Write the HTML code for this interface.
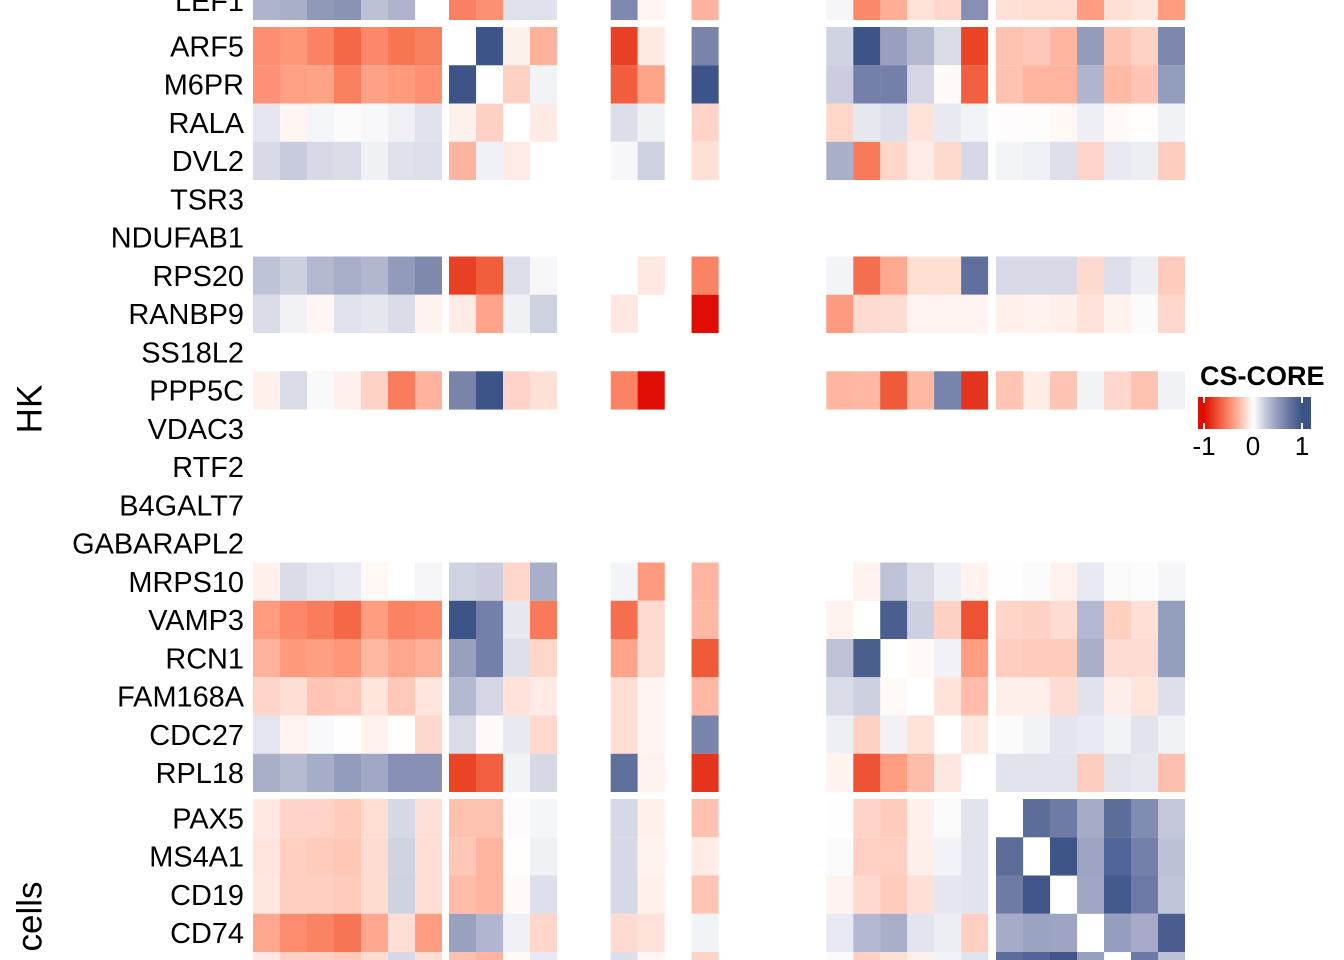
<!DOCTYPE html>
<html><head><meta charset="utf-8"><style>
html,body{margin:0;padding:0;background:#fff;}
svg{display:block;}
text{font-family:"Liberation Sans",Arial,sans-serif;fill:#000;}
.lab{font-size:28.9px;text-anchor:end;}
</style></head><body>
<svg width="1344" height="960" viewBox="0 0 1344 960" xmlns="http://www.w3.org/2000/svg">
<defs>
<linearGradient id="cb" x1="1198" y1="0" x2="1311" y2="0" gradientUnits="userSpaceOnUse">
<stop offset="0" stop-color="#de0c03"/><stop offset="0.053" stop-color="#de0c03"/>
<stop offset="0.162" stop-color="#ec4a2d"/><stop offset="0.27" stop-color="#fb8567"/>
<stop offset="0.378" stop-color="#ffc0ae"/><stop offset="0.487" stop-color="#ffffff"/>
<stop offset="0.595" stop-color="#c7cadc"/><stop offset="0.703" stop-color="#939bbb"/>
<stop offset="0.811" stop-color="#66759f"/><stop offset="0.92" stop-color="#3b5387"/>
<stop offset="1" stop-color="#3b5387"/>
</linearGradient>
</defs>
<rect width="1344" height="960" fill="#fff"/>

<!-- LEF1 -->
<g transform="translate(0,-18.25)">
<rect x="253" width="27.1" height="38.3" fill="#aeb2cc"/><rect x="280" width="27.1" height="38.3" fill="#a9aec9"/><rect x="307" width="27.1" height="38.3" fill="#9099b8"/><rect x="334" width="27.1" height="38.3" fill="#8b93b5"/><rect x="361" width="27.1" height="38.3" fill="#bdc1d6"/><rect x="388" width="27.1" height="38.3" fill="#aeb2cc"/>
<rect x="449" width="27.1" height="38.3" fill="#f98062"/><rect x="476" width="27.1" height="38.3" fill="#fd9072"/><rect x="503" width="27.1" height="38.3" fill="#dfe1ec"/><rect x="530" width="27.1" height="38.3" fill="#dfe1ec"/>
<rect x="610.7" width="27.1" height="38.3" fill="#7f89af"/><rect x="637.65" width="27.1" height="38.3" fill="#fff5f2"/><rect x="691.55" width="27.1" height="38.3" fill="#ffb39e"/>
<rect x="826.3" width="27.1" height="38.3" fill="#f6f6f9"/><rect x="853.3" width="27.1" height="38.3" fill="#fd8769"/><rect x="880.2" width="27.1" height="38.3" fill="#ffae96"/><rect x="907.2" width="27.1" height="38.3" fill="#ffe3da"/><rect x="934.1" width="27.1" height="38.3" fill="#ffd6cb"/><rect x="961.1" width="27" height="38.3" fill="#8790b4"/>
<rect x="996" width="27.1" height="38.3" fill="#ffe1d9"/><rect x="1023" width="27.1" height="38.3" fill="#ffddd3"/><rect x="1050" width="27.1" height="38.3" fill="#ffddd3"/><rect x="1077" width="27.1" height="38.3" fill="#ff9d82"/><rect x="1104" width="27.1" height="38.3" fill="#ffdfd6"/><rect x="1131" width="27.1" height="38.3" fill="#ffe6de"/><rect x="1158" width="27" height="38.3" fill="#ff9c80"/>
</g>

<!-- ARF5 -->
<g transform="translate(0,27)">
<rect x="253" width="27.1" height="38.3" fill="#fe8e72"/><rect x="280" width="27.1" height="38.3" fill="#fe9778"/><rect x="307" width="27.1" height="38.3" fill="#fb8262"/><rect x="334" width="27.1" height="38.3" fill="#f46747"/><rect x="361" width="27.1" height="38.3" fill="#fd8769"/><rect x="388" width="27.1" height="38.3" fill="#f87552"/><rect x="415" width="27" height="38.3" fill="#f9805f"/>
<rect x="476" width="27.1" height="38.3" fill="#3c5487"/><rect x="503" width="27.1" height="38.3" fill="#fdf1ec"/><rect x="530" width="27.1" height="38.3" fill="#ffb19c"/>
<rect x="610.7" width="27.1" height="38.3" fill="#e84025"/><rect x="637.65" width="27.1" height="38.3" fill="#ffeae2"/><rect x="691.55" width="27.1" height="38.3" fill="#7a84ab"/>
<rect x="826.3" width="27.1" height="38.3" fill="#d0d3e2"/><rect x="853.3" width="27.1" height="38.3" fill="#3c5487"/><rect x="880.2" width="27.1" height="38.3" fill="#98a0bd"/><rect x="907.2" width="27.1" height="38.3" fill="#b5b9d0"/><rect x="934.1" width="27.1" height="38.3" fill="#d9dbe6"/><rect x="961.1" width="27" height="38.3" fill="#ea4326"/>
<rect x="996" width="27.1" height="38.3" fill="#ffc2b1"/><rect x="1023" width="27.1" height="38.3" fill="#ffc7b7"/><rect x="1050" width="27.1" height="38.3" fill="#ffb6a1"/><rect x="1077" width="27.1" height="38.3" fill="#939dbb"/><rect x="1104" width="27.1" height="38.3" fill="#ffc3b3"/><rect x="1131" width="27.1" height="38.3" fill="#ffd2c5"/><rect x="1158" width="27" height="38.3" fill="#7d88ae"/>
</g>

<!-- M6PR -->
<g transform="translate(0,65.25)">
<rect x="253" width="27.1" height="38.3" fill="#fe9175"/><rect x="280" width="27.1" height="38.3" fill="#ffa084"/><rect x="307" width="27.1" height="38.3" fill="#ffa387"/><rect x="334" width="27.1" height="38.3" fill="#f97f5e"/><rect x="361" width="27.1" height="38.3" fill="#ffa186"/><rect x="388" width="27.1" height="38.3" fill="#ff9a7c"/><rect x="415" width="27" height="38.3" fill="#fe8f72"/>
<rect x="449" width="27.1" height="38.3" fill="#3c5487"/><rect x="503" width="27.1" height="38.3" fill="#ffd1c4"/><rect x="530" width="27.1" height="38.3" fill="#f2f3f7"/>
<rect x="610.7" width="27.1" height="38.3" fill="#f05e3e"/><rect x="637.65" width="27.1" height="38.3" fill="#ffa489"/><rect x="691.55" width="27.1" height="38.3" fill="#3c5487"/>
<rect x="826.3" width="27.1" height="38.3" fill="#cbcddf"/><rect x="853.3" width="27.1" height="38.3" fill="#7580aa"/><rect x="880.2" width="27.1" height="38.3" fill="#7480aa"/><rect x="907.2" width="27.1" height="38.3" fill="#d4d6e5"/><rect x="934.1" width="27.1" height="38.3" fill="#fffaf7"/><rect x="961.1" width="27" height="38.3" fill="#f05f3f"/>
<rect x="996" width="27.1" height="38.3" fill="#ffc2b1"/><rect x="1023" width="27.1" height="38.3" fill="#ffb49f"/><rect x="1050" width="27.1" height="38.3" fill="#ffb49f"/><rect x="1077" width="27.1" height="38.3" fill="#b1b4cf"/><rect x="1104" width="27.1" height="38.3" fill="#ffbaa5"/><rect x="1131" width="27.1" height="38.3" fill="#ffc4b3"/><rect x="1158" width="27" height="38.3" fill="#939dbd"/>
</g>

<!-- RALA -->
<g transform="translate(0,103.5)">
<rect x="253" width="27.1" height="38.3" fill="#e5e6ef"/><rect x="280" width="27.1" height="38.3" fill="#fff5f2"/><rect x="307" width="27.1" height="38.3" fill="#f4f5f9"/><rect x="334" width="27.1" height="38.3" fill="#fbfbfc"/><rect x="361" width="27.1" height="38.3" fill="#f8f8fa"/><rect x="388" width="27.1" height="38.3" fill="#efeff4"/><rect x="415" width="27" height="38.3" fill="#e0e2ec"/>
<rect x="449" width="27.1" height="38.3" fill="#fdf1ed"/><rect x="476" width="27.1" height="38.3" fill="#ffd1c4"/><rect x="530" width="27.1" height="38.3" fill="#ffebe5"/>
<rect x="610.7" width="27.1" height="38.3" fill="#dcdee9"/><rect x="637.65" width="27.1" height="38.3" fill="#f0f1f5"/><rect x="691.55" width="27.1" height="38.3" fill="#ffd3c7"/>
<rect x="826.3" width="27.1" height="38.3" fill="#ffd6ca"/><rect x="853.3" width="27.1" height="38.3" fill="#e6e8f0"/><rect x="880.2" width="27.1" height="38.3" fill="#dddfea"/><rect x="907.2" width="27.1" height="38.3" fill="#ffe2d9"/><rect x="934.1" width="27.1" height="38.3" fill="#e8eaf1"/><rect x="961.1" width="27" height="38.3" fill="#f2f3f7"/>
<rect x="996" width="27.1" height="38.3" fill="#fffcfd"/><rect x="1023" width="27.1" height="38.3" fill="#fffdfc"/><rect x="1050" width="27.1" height="38.3" fill="#fff8f5"/><rect x="1077" width="27.1" height="38.3" fill="#eeeff4"/><rect x="1104" width="27.1" height="38.3" fill="#fffaf8"/><rect x="1131" width="27.1" height="38.3" fill="#fffefd"/><rect x="1158" width="27" height="38.3" fill="#f1f2f6"/>
</g>

<!-- DVL2 -->
<g transform="translate(0,141.75)">
<rect x="253" width="27.1" height="38.3" fill="#d8dbe7"/><rect x="280" width="27.1" height="38.3" fill="#c8cbdc"/><rect x="307" width="27.1" height="38.3" fill="#d7dae6"/><rect x="334" width="27.1" height="38.3" fill="#dadce8"/><rect x="361" width="27.1" height="38.3" fill="#f0f1f5"/><rect x="388" width="27.1" height="38.3" fill="#dfe1eb"/><rect x="415" width="27" height="38.3" fill="#dddfea"/>
<rect x="449" width="27.1" height="38.3" fill="#ffb4a0"/><rect x="476" width="27.1" height="38.3" fill="#f0f1f6"/><rect x="503" width="27.1" height="38.3" fill="#ffebe6"/>
<rect x="610.7" width="27.1" height="38.3" fill="#f7f7f9"/><rect x="637.65" width="27.1" height="38.3" fill="#ced1e0"/><rect x="691.55" width="27.1" height="38.3" fill="#ffe0d7"/>
<rect x="826.3" width="27.1" height="38.3" fill="#a9aec9"/><rect x="853.3" width="27.1" height="38.3" fill="#f87a5a"/><rect x="880.2" width="27.1" height="38.3" fill="#ffd6ca"/><rect x="907.2" width="27.1" height="38.3" fill="#ffebe6"/><rect x="934.1" width="27.1" height="38.3" fill="#ffd9ce"/><rect x="961.1" width="27" height="38.3" fill="#d6d9e5"/>
<rect x="996" width="27.1" height="38.3" fill="#f3f4f8"/><rect x="1023" width="27.1" height="38.3" fill="#eff0f5"/><rect x="1050" width="27.1" height="38.3" fill="#dedfea"/><rect x="1077" width="27.1" height="38.3" fill="#ffd5c9"/><rect x="1104" width="27.1" height="38.3" fill="#e8e9f1"/><rect x="1131" width="27.1" height="38.3" fill="#eceef2"/><rect x="1158" width="27" height="38.3" fill="#ffcdbf"/>
</g>

<!-- RPS20 -->
<g transform="translate(0,256.5)">
<rect x="253" width="27.1" height="38.3" fill="#bec2d6"/><rect x="280" width="27.1" height="38.3" fill="#cdd0df"/><rect x="307" width="27.1" height="38.3" fill="#b3b7cf"/><rect x="334" width="27.1" height="38.3" fill="#a8adc8"/><rect x="361" width="27.1" height="38.3" fill="#b2b6ce"/><rect x="388" width="27.1" height="38.3" fill="#939bba"/><rect x="415" width="27" height="38.3" fill="#7e89ad"/>
<rect x="449" width="27.1" height="38.3" fill="#e84025"/><rect x="476" width="27.1" height="38.3" fill="#f05e3e"/><rect x="503" width="27.1" height="38.3" fill="#dcdee9"/><rect x="530" width="27.1" height="38.3" fill="#f7f7f9"/>
<rect x="637.65" width="27.1" height="38.3" fill="#ffe8e1"/><rect x="691.55" width="27.1" height="38.3" fill="#fa8366"/>
<rect x="826.3" width="27.1" height="38.3" fill="#f3f4f8"/><rect x="853.3" width="27.1" height="38.3" fill="#f56e4f"/><rect x="880.2" width="27.1" height="38.3" fill="#ffa990"/><rect x="907.2" width="27.1" height="38.3" fill="#ffded4"/><rect x="934.1" width="27.1" height="38.3" fill="#ffded4"/><rect x="961.1" width="27" height="38.3" fill="#5f709c"/>
<rect x="996" width="27.1" height="38.3" fill="#d8dbe7"/><rect x="1023" width="27.1" height="38.3" fill="#d8dbe7"/><rect x="1050" width="27.1" height="38.3" fill="#d8dbe7"/><rect x="1077" width="27.1" height="38.3" fill="#ffd9cf"/><rect x="1104" width="27.1" height="38.3" fill="#dddfea"/><rect x="1131" width="27.1" height="38.3" fill="#edeef3"/><rect x="1158" width="27" height="38.3" fill="#ffcbbd"/>
</g>

<!-- RANBP9 -->
<g transform="translate(0,294.75)">
<rect x="253" width="27.1" height="38.3" fill="#d9dbe7"/><rect x="280" width="27.1" height="38.3" fill="#f2f2f6"/><rect x="307" width="27.1" height="38.3" fill="#fff6f4"/><rect x="334" width="27.1" height="38.3" fill="#e0e2ec"/><rect x="361" width="27.1" height="38.3" fill="#e5e7ef"/><rect x="388" width="27.1" height="38.3" fill="#dadce8"/><rect x="415" width="27" height="38.3" fill="#fff3f0"/>
<rect x="449" width="27.1" height="38.3" fill="#ffece6"/><rect x="476" width="27.1" height="38.3" fill="#ffa48a"/><rect x="503" width="27.1" height="38.3" fill="#f0f1f5"/><rect x="530" width="27.1" height="38.3" fill="#ced1e0"/>
<rect x="610.7" width="27.1" height="38.3" fill="#ffe8e1"/><rect x="691.55" width="27.1" height="38.3" fill="#df0d03"/>
<rect x="826.3" width="27.1" height="38.3" fill="#fe9a7f"/><rect x="853.3" width="27.1" height="38.3" fill="#ffdad0"/><rect x="880.2" width="27.1" height="38.3" fill="#ffdcd2"/><rect x="907.2" width="27.1" height="38.3" fill="#fff4f1"/><rect x="934.1" width="27.1" height="38.3" fill="#fff4f1"/><rect x="961.1" width="27" height="38.3" fill="#fff4f1"/>
<rect x="996" width="27.1" height="38.3" fill="#fff0ec"/><rect x="1023" width="27.1" height="38.3" fill="#fff1ed"/><rect x="1050" width="27.1" height="38.3" fill="#ffefeb"/><rect x="1077" width="27.1" height="38.3" fill="#ffe3db"/><rect x="1104" width="27.1" height="38.3" fill="#fff3f0"/><rect x="1131" width="27.1" height="38.3" fill="#fbfbfb"/><rect x="1158" width="27" height="38.3" fill="#ffd7cc"/>
</g>

<!-- PPP5C -->
<g transform="translate(0,371.25)">
<rect x="253" width="27.1" height="38.3" fill="#fff0ec"/><rect x="280" width="27.1" height="38.3" fill="#d9dbe7"/><rect x="307" width="27.1" height="38.3" fill="#f9f9fb"/><rect x="334" width="27.1" height="38.3" fill="#fff0ed"/><rect x="361" width="27.1" height="38.3" fill="#ffd2c6"/><rect x="388" width="27.1" height="38.3" fill="#f97c5c"/><rect x="415" width="27" height="38.3" fill="#ffb29d"/>
<rect x="449" width="27.1" height="38.3" fill="#7a84ab"/><rect x="476" width="27.1" height="38.3" fill="#3c5487"/><rect x="503" width="27.1" height="38.3" fill="#ffd3c7"/><rect x="530" width="27.1" height="38.3" fill="#ffe0d7"/>
<rect x="610.7" width="27.1" height="38.3" fill="#fa8366"/><rect x="637.65" width="27.1" height="38.3" fill="#df0d03"/>
<rect x="826.3" width="27.1" height="38.3" fill="#ffb5a1"/><rect x="853.3" width="27.1" height="38.3" fill="#ffb8a4"/><rect x="880.2" width="27.1" height="38.3" fill="#ee5a3a"/><rect x="907.2" width="27.1" height="38.3" fill="#ffb8a4"/><rect x="934.1" width="27.1" height="38.3" fill="#7884ab"/><rect x="961.1" width="27" height="38.3" fill="#e4341d"/>
<rect x="996" width="27.1" height="38.3" fill="#ffc4b3"/><rect x="1023" width="27.1" height="38.3" fill="#ffece5"/><rect x="1050" width="27.1" height="38.3" fill="#ffc4b3"/><rect x="1077" width="27.1" height="38.3" fill="#f2f3f7"/><rect x="1104" width="27.1" height="38.3" fill="#ffd7cc"/><rect x="1131" width="27.1" height="38.3" fill="#ffc1b0"/><rect x="1158" width="27" height="38.3" fill="#f1f2f6"/>
</g>

<!-- MRPS10 -->
<g transform="translate(0,562.5)">
<rect x="253" width="27.1" height="38.3" fill="#fff0eb"/><rect x="280" width="27.1" height="38.3" fill="#dadce8"/><rect x="307" width="27.1" height="38.3" fill="#e4e6ef"/><rect x="334" width="27.1" height="38.3" fill="#e9eaf2"/><rect x="361" width="27.1" height="38.3" fill="#fff8f5"/><rect x="415" width="27" height="38.3" fill="#f5f5f8"/>
<rect x="449" width="27.1" height="38.3" fill="#d0d3e2"/><rect x="476" width="27.1" height="38.3" fill="#cbcddf"/><rect x="503" width="27.1" height="38.3" fill="#ffd6ca"/><rect x="530" width="27.1" height="38.3" fill="#a9aec9"/>
<rect x="610.7" width="27.1" height="38.3" fill="#f3f4f8"/><rect x="637.65" width="27.1" height="38.3" fill="#fe9a7f"/><rect x="691.55" width="27.1" height="38.3" fill="#ffb5a1"/>
<rect x="853.3" width="27.1" height="38.3" fill="#fff2ef"/><rect x="880.2" width="27.1" height="38.3" fill="#bec2d6"/><rect x="907.2" width="27.1" height="38.3" fill="#d9dbe7"/><rect x="934.1" width="27.1" height="38.3" fill="#eeeff4"/><rect x="961.1" width="27" height="38.3" fill="#fff3f0"/>
<rect x="996" width="27.1" height="38.3" fill="#fefefe"/><rect x="1023" width="27.1" height="38.3" fill="#fbfbfc"/><rect x="1050" width="27.1" height="38.3" fill="#fff1ee"/><rect x="1077" width="27.1" height="38.3" fill="#e8e9f2"/><rect x="1104" width="27.1" height="38.3" fill="#fafafb"/><rect x="1131" width="27.1" height="38.3" fill="#fcfcfc"/><rect x="1158" width="27" height="38.3" fill="#f6f6f9"/>
</g>

<!-- VAMP3 -->
<g transform="translate(0,600.75)">
<rect x="253" width="27.1" height="38.3" fill="#ff9b7e"/><rect x="280" width="27.1" height="38.3" fill="#fd8769"/><rect x="307" width="27.1" height="38.3" fill="#f97c5c"/><rect x="334" width="27.1" height="38.3" fill="#f46747"/><rect x="361" width="27.1" height="38.3" fill="#ff9d80"/><rect x="388" width="27.1" height="38.3" fill="#fb8363"/><rect x="415" width="27" height="38.3" fill="#fd896b"/>
<rect x="449" width="27.1" height="38.3" fill="#3c5487"/><rect x="476" width="27.1" height="38.3" fill="#7580aa"/><rect x="503" width="27.1" height="38.3" fill="#e6e8f0"/><rect x="530" width="27.1" height="38.3" fill="#f87a5a"/>
<rect x="610.7" width="27.1" height="38.3" fill="#f56e4f"/><rect x="637.65" width="27.1" height="38.3" fill="#ffdad0"/><rect x="691.55" width="27.1" height="38.3" fill="#ffb8a4"/>
<rect x="826.3" width="27.1" height="38.3" fill="#fff3f0"/><rect x="880.2" width="27.1" height="38.3" fill="#4b5f8f"/><rect x="907.2" width="27.1" height="38.3" fill="#cdd0e0"/><rect x="934.1" width="27.1" height="38.3" fill="#ffd1c5"/><rect x="961.1" width="27" height="38.3" fill="#ee5234"/>
<rect x="996" width="27.1" height="38.3" fill="#ffd4c9"/><rect x="1023" width="27.1" height="38.3" fill="#ffd1c5"/><rect x="1050" width="27.1" height="38.3" fill="#ffdcd2"/><rect x="1077" width="27.1" height="38.3" fill="#b3b7d1"/><rect x="1104" width="27.1" height="38.3" fill="#ffcfbf"/><rect x="1131" width="27.1" height="38.3" fill="#ffe0d7"/><rect x="1158" width="27" height="38.3" fill="#949ebd"/>
</g>

<!-- RCN1 -->
<g transform="translate(0,639)">
<rect x="253" width="27.1" height="38.3" fill="#ffb29c"/><rect x="280" width="27.1" height="38.3" fill="#ff9a7d"/><rect x="307" width="27.1" height="38.3" fill="#ff9f82"/><rect x="334" width="27.1" height="38.3" fill="#ff9579"/><rect x="361" width="27.1" height="38.3" fill="#ffb9a3"/><rect x="388" width="27.1" height="38.3" fill="#ffa78d"/><rect x="415" width="27" height="38.3" fill="#ffaf97"/>
<rect x="449" width="27.1" height="38.3" fill="#98a0bd"/><rect x="476" width="27.1" height="38.3" fill="#7480aa"/><rect x="503" width="27.1" height="38.3" fill="#dddfea"/><rect x="530" width="27.1" height="38.3" fill="#ffd6ca"/>
<rect x="610.7" width="27.1" height="38.3" fill="#ffa48a"/><rect x="637.65" width="27.1" height="38.3" fill="#ffdcd2"/><rect x="691.55" width="27.1" height="38.3" fill="#ee5a3a"/>
<rect x="826.3" width="27.1" height="38.3" fill="#bec2d6"/><rect x="853.3" width="27.1" height="38.3" fill="#4b5f8f"/><rect x="907.2" width="27.1" height="38.3" fill="#fffaf7"/><rect x="934.1" width="27.1" height="38.3" fill="#f1f1f6"/><rect x="961.1" width="27" height="38.3" fill="#ff9d82"/>
<rect x="996" width="27.1" height="38.3" fill="#ffcec0"/><rect x="1023" width="27.1" height="38.3" fill="#ffcbbd"/><rect x="1050" width="27.1" height="38.3" fill="#ffcbbb"/><rect x="1077" width="27.1" height="38.3" fill="#a9aec9"/><rect x="1104" width="27.1" height="38.3" fill="#ffdcd3"/><rect x="1131" width="27.1" height="38.3" fill="#ffdcd3"/><rect x="1158" width="27" height="38.3" fill="#949ebd"/>
</g>

<!-- FAM168A -->
<g transform="translate(0,677.25)">
<rect x="253" width="27.1" height="38.3" fill="#ffd4c9"/><rect x="280" width="27.1" height="38.3" fill="#ffdfd5"/><rect x="307" width="27.1" height="38.3" fill="#ffc4b3"/><rect x="334" width="27.1" height="38.3" fill="#ffc8b8"/><rect x="361" width="27.1" height="38.3" fill="#ffe4dc"/><rect x="388" width="27.1" height="38.3" fill="#ffc8b8"/><rect x="415" width="27" height="38.3" fill="#ffe5de"/>
<rect x="449" width="27.1" height="38.3" fill="#b5b9d0"/><rect x="476" width="27.1" height="38.3" fill="#d4d6e5"/><rect x="503" width="27.1" height="38.3" fill="#ffe2d9"/><rect x="530" width="27.1" height="38.3" fill="#ffebe6"/>
<rect x="610.7" width="27.1" height="38.3" fill="#ffded4"/><rect x="637.65" width="27.1" height="38.3" fill="#fff4f1"/><rect x="691.55" width="27.1" height="38.3" fill="#ffb8a4"/>
<rect x="826.3" width="27.1" height="38.3" fill="#d9dbe7"/><rect x="853.3" width="27.1" height="38.3" fill="#cdd0e0"/><rect x="880.2" width="27.1" height="38.3" fill="#fffaf7"/><rect x="934.1" width="27.1" height="38.3" fill="#ffe3da"/><rect x="961.1" width="27" height="38.3" fill="#ffbcaa"/>
<rect x="996" width="27.1" height="38.3" fill="#ffefeb"/><rect x="1023" width="27.1" height="38.3" fill="#ffefeb"/><rect x="1050" width="27.1" height="38.3" fill="#ffdcd3"/><rect x="1077" width="27.1" height="38.3" fill="#e1e3ec"/><rect x="1104" width="27.1" height="38.3" fill="#ffedea"/><rect x="1131" width="27.1" height="38.3" fill="#ffe4dc"/><rect x="1158" width="27" height="38.3" fill="#dddfea"/>
</g>

<!-- CDC27 -->
<g transform="translate(0,715.5)">
<rect x="253" width="27.1" height="38.3" fill="#e4e6ef"/><rect x="280" width="27.1" height="38.3" fill="#fff4f1"/><rect x="307" width="27.1" height="38.3" fill="#f9f9fb"/><rect x="334" width="27.1" height="38.3" fill="#fefefe"/><rect x="361" width="27.1" height="38.3" fill="#fff1ed"/><rect x="388" width="27.1" height="38.3" fill="#fffefd"/><rect x="415" width="27" height="38.3" fill="#ffd8cd"/>
<rect x="449" width="27.1" height="38.3" fill="#d9dbe6"/><rect x="476" width="27.1" height="38.3" fill="#fffaf7"/><rect x="503" width="27.1" height="38.3" fill="#e8eaf1"/><rect x="530" width="27.1" height="38.3" fill="#ffd9ce"/>
<rect x="610.7" width="27.1" height="38.3" fill="#ffded4"/><rect x="637.65" width="27.1" height="38.3" fill="#fff4f1"/><rect x="691.55" width="27.1" height="38.3" fill="#7884ab"/>
<rect x="826.3" width="27.1" height="38.3" fill="#eeeff4"/><rect x="853.3" width="27.1" height="38.3" fill="#ffd1c5"/><rect x="880.2" width="27.1" height="38.3" fill="#f1f1f6"/><rect x="907.2" width="27.1" height="38.3" fill="#ffe3da"/><rect x="961.1" width="27" height="38.3" fill="#ffe7e1"/>
<rect x="996" width="27.1" height="38.3" fill="#fbfbfb"/><rect x="1023" width="27.1" height="38.3" fill="#f2f3f7"/><rect x="1050" width="27.1" height="38.3" fill="#e3e5ee"/><rect x="1077" width="27.1" height="38.3" fill="#e8e9f2"/><rect x="1104" width="27.1" height="38.3" fill="#f2f3f7"/><rect x="1131" width="27.1" height="38.3" fill="#e1e4ed"/><rect x="1158" width="27" height="38.3" fill="#f1f2f6"/>
</g>

<!-- RPL18 -->
<g transform="translate(0,753.75)">
<rect x="253" width="27.1" height="38.25" fill="#aaafc9"/><rect x="280" width="27.1" height="38.25" fill="#b7bbd1"/><rect x="307" width="27.1" height="38.25" fill="#a5adc8"/><rect x="334" width="27.1" height="38.25" fill="#939cbc"/><rect x="361" width="27.1" height="38.25" fill="#a1a8c5"/><rect x="388" width="27.1" height="38.25" fill="#8790b4"/><rect x="415" width="27" height="38.25" fill="#8790b4"/>
<rect x="449" width="27.1" height="38.25" fill="#ea4326"/><rect x="476" width="27.1" height="38.25" fill="#f05f3f"/><rect x="503" width="27.1" height="38.25" fill="#f2f3f7"/><rect x="530" width="27.1" height="38.25" fill="#d6d9e5"/>
<rect x="610.7" width="27.1" height="38.25" fill="#5f709c"/><rect x="637.65" width="27.1" height="38.25" fill="#fff3f0"/><rect x="691.55" width="27.1" height="38.25" fill="#e4341d"/>
<rect x="826.3" width="27.1" height="38.25" fill="#fff3f0"/><rect x="853.3" width="27.1" height="38.25" fill="#ee5234"/><rect x="880.2" width="27.1" height="38.25" fill="#ff9d82"/><rect x="907.2" width="27.1" height="38.25" fill="#ffbcaa"/><rect x="934.1" width="27.1" height="38.25" fill="#ffe7e1"/>
<rect x="996" width="27.1" height="38.25" fill="#e1e4ed"/><rect x="1023" width="27.1" height="38.25" fill="#e1e4ed"/><rect x="1050" width="27.1" height="38.25" fill="#e1e4ed"/><rect x="1077" width="27.1" height="38.25" fill="#ffcdbf"/><rect x="1104" width="27.1" height="38.25" fill="#e1e4ed"/><rect x="1131" width="27.1" height="38.25" fill="#e6e8f0"/><rect x="1158" width="27" height="38.25" fill="#ffbfae"/>
</g>

<!-- PAX5 -->
<g transform="translate(0,799)">
<rect x="253" width="27.1" height="38.3" fill="#ffe8e1"/><rect x="280" width="27.1" height="38.3" fill="#ffd3c7"/><rect x="307" width="27.1" height="38.3" fill="#ffd3c7"/><rect x="334" width="27.1" height="38.3" fill="#ffcbbb"/><rect x="361" width="27.1" height="38.3" fill="#ffddd3"/><rect x="388" width="27.1" height="38.3" fill="#d6d9e5"/><rect x="415" width="27" height="38.3" fill="#ffe0d8"/>
<rect x="449" width="27.1" height="38.3" fill="#ffc2b1"/><rect x="476" width="27.1" height="38.3" fill="#ffc2b1"/><rect x="503" width="27.1" height="38.3" fill="#fffbfc"/><rect x="530" width="27.1" height="38.3" fill="#f5f6f9"/>
<rect x="610.7" width="27.1" height="38.3" fill="#d6d9e5"/><rect x="637.65" width="27.1" height="38.3" fill="#fff0ec"/><rect x="691.55" width="27.1" height="38.3" fill="#ffc2b1"/>
<rect x="826.3" width="27.1" height="38.3" fill="#fefefe"/><rect x="853.3" width="27.1" height="38.3" fill="#ffd3c7"/><rect x="880.2" width="27.1" height="38.3" fill="#ffcbbd"/><rect x="907.2" width="27.1" height="38.3" fill="#fff0ec"/><rect x="934.1" width="27.1" height="38.3" fill="#fafafb"/><rect x="961.1" width="27" height="38.3" fill="#e1e4ed"/>
<rect x="1023" width="27.1" height="38.3" fill="#5d6d99"/><rect x="1050" width="27.1" height="38.3" fill="#6f7ba5"/><rect x="1077" width="27.1" height="38.3" fill="#a6abc8"/><rect x="1104" width="27.1" height="38.3" fill="#5d6d99"/><rect x="1131" width="27.1" height="38.3" fill="#818cb1"/><rect x="1158" width="27" height="38.3" fill="#c4c7da"/>
</g>

<!-- MS4A1 -->
<g transform="translate(0,837.25)">
<rect x="253" width="27.1" height="38.3" fill="#ffe5de"/><rect x="280" width="27.1" height="38.3" fill="#ffcfc1"/><rect x="307" width="27.1" height="38.3" fill="#ffcbbb"/><rect x="334" width="27.1" height="38.3" fill="#ffc7b6"/><rect x="361" width="27.1" height="38.3" fill="#ffdcd2"/><rect x="388" width="27.1" height="38.3" fill="#d0d3e2"/><rect x="415" width="27" height="38.3" fill="#ffded5"/>
<rect x="449" width="27.1" height="38.3" fill="#ffc7b6"/><rect x="476" width="27.1" height="38.3" fill="#ffb4a0"/><rect x="503" width="27.1" height="38.3" fill="#fffefd"/><rect x="530" width="27.1" height="38.3" fill="#f0f1f5"/>
<rect x="610.7" width="27.1" height="38.3" fill="#d6d9e5"/><rect x="637.65" width="27.1" height="38.3" fill="#fff3f0"/><rect x="691.55" width="27.1" height="38.3" fill="#ffebe5"/>
<rect x="826.3" width="27.1" height="38.3" fill="#fbfbfb"/><rect x="853.3" width="27.1" height="38.3" fill="#ffcfc4"/><rect x="880.2" width="27.1" height="38.3" fill="#ffcfc4"/><rect x="907.2" width="27.1" height="38.3" fill="#ffefeb"/><rect x="934.1" width="27.1" height="38.3" fill="#f2f3f7"/><rect x="961.1" width="27" height="38.3" fill="#e1e4ed"/>
<rect x="996" width="27.1" height="38.3" fill="#5d6d99"/><rect x="1050" width="27.1" height="38.3" fill="#3d5587"/><rect x="1077" width="27.1" height="38.3" fill="#9da4c1"/><rect x="1104" width="27.1" height="38.3" fill="#51649a"/><rect x="1131" width="27.1" height="38.3" fill="#7580aa"/><rect x="1158" width="27" height="38.3" fill="#bdc1d6"/>
</g>

<!-- CD19 -->
<g transform="translate(0,875.5)">
<rect x="253" width="27.1" height="38.3" fill="#ffe6df"/><rect x="280" width="27.1" height="38.3" fill="#ffcfc1"/><rect x="307" width="27.1" height="38.3" fill="#ffcfc1"/><rect x="334" width="27.1" height="38.3" fill="#ffcbbc"/><rect x="361" width="27.1" height="38.3" fill="#ffdbd0"/><rect x="388" width="27.1" height="38.3" fill="#ced1e0"/><rect x="415" width="27" height="38.3" fill="#ffdfd5"/>
<rect x="449" width="27.1" height="38.3" fill="#ffbca8"/><rect x="476" width="27.1" height="38.3" fill="#ffb4a0"/><rect x="503" width="27.1" height="38.3" fill="#fffaf7"/><rect x="530" width="27.1" height="38.3" fill="#dddfea"/>
<rect x="610.7" width="27.1" height="38.3" fill="#d6d9e5"/><rect x="637.65" width="27.1" height="38.3" fill="#fff0ec"/><rect x="691.55" width="27.1" height="38.3" fill="#ffc4b3"/>
<rect x="826.3" width="27.1" height="38.3" fill="#fff3f0"/><rect x="853.3" width="27.1" height="38.3" fill="#ffd9cf"/><rect x="880.2" width="27.1" height="38.3" fill="#ffcbbd"/><rect x="907.2" width="27.1" height="38.3" fill="#ffe0d8"/><rect x="934.1" width="27.1" height="38.3" fill="#e4e6ef"/><rect x="961.1" width="27" height="38.3" fill="#e1e4ed"/>
<rect x="996" width="27.1" height="38.3" fill="#6f7ba5"/><rect x="1023" width="27.1" height="38.3" fill="#41558a"/><rect x="1077" width="27.1" height="38.3" fill="#a0a7c4"/><rect x="1104" width="27.1" height="38.3" fill="#44598c"/><rect x="1131" width="27.1" height="38.3" fill="#6e7aa5"/><rect x="1158" width="27" height="38.3" fill="#c1c5d9"/>
</g>

<!-- CD74 -->
<g transform="translate(0,913.75)">
<rect x="253" width="27.1" height="38.3" fill="#ffa88f"/><rect x="280" width="27.1" height="38.3" fill="#fd8b6d"/><rect x="307" width="27.1" height="38.3" fill="#fa8364"/><rect x="334" width="27.1" height="38.3" fill="#f77554"/><rect x="361" width="27.1" height="38.3" fill="#ffa88f"/><rect x="388" width="27.1" height="38.3" fill="#ffdfd5"/><rect x="415" width="27" height="38.3" fill="#ff9d82"/>
<rect x="449" width="27.1" height="38.3" fill="#99a1be"/><rect x="476" width="27.1" height="38.3" fill="#b1b5cf"/><rect x="503" width="27.1" height="38.3" fill="#efeff5"/><rect x="530" width="27.1" height="38.3" fill="#ffd6ca"/>
<rect x="610.7" width="27.1" height="38.3" fill="#ffdad0"/><rect x="637.65" width="27.1" height="38.3" fill="#ffe2da"/><rect x="691.55" width="27.1" height="38.3" fill="#f2f3f7"/>
<rect x="826.3" width="27.1" height="38.3" fill="#e8e9f2"/><rect x="853.3" width="27.1" height="38.3" fill="#b3b7d2"/><rect x="880.2" width="27.1" height="38.3" fill="#a8adc8"/><rect x="907.2" width="27.1" height="38.3" fill="#e3e5ee"/><rect x="934.1" width="27.1" height="38.3" fill="#eceef4"/><rect x="961.1" width="27" height="38.3" fill="#ffcfc2"/>
<rect x="996" width="27.1" height="38.3" fill="#a6abc8"/><rect x="1023" width="27.1" height="38.3" fill="#9aa3c0"/><rect x="1050" width="27.1" height="38.3" fill="#9da4c1"/><rect x="1104" width="27.1" height="38.3" fill="#959ebf"/><rect x="1131" width="27.1" height="38.3" fill="#a7abc9"/><rect x="1158" width="27" height="38.3" fill="#4b5d8f"/>
</g>

<!-- row 5 of B cells (partial) -->
<g transform="translate(0,952)">
<rect x="253" width="27.1" height="38.3" fill="#ffe8e1"/><rect x="280" width="27.1" height="38.3" fill="#ffd0c3"/><rect x="307" width="27.1" height="38.3" fill="#ffd0c3"/><rect x="334" width="27.1" height="38.3" fill="#ffc8b8"/><rect x="361" width="27.1" height="38.3" fill="#ffdcd2"/><rect x="388" width="27.1" height="38.3" fill="#d6d9e5"/><rect x="415" width="27" height="38.3" fill="#ffdfd5"/>
<rect x="449" width="27.1" height="38.3" fill="#ffc2b1"/><rect x="476" width="27.1" height="38.3" fill="#ffb49f"/><rect x="503" width="27.1" height="38.3" fill="#fffaf8"/><rect x="530" width="27.1" height="38.3" fill="#e8e9f2"/>
<rect x="610.7" width="27.1" height="38.3" fill="#dcdee9"/><rect x="637.65" width="27.1" height="38.3" fill="#fff5f2"/><rect x="691.55" width="27.1" height="38.3" fill="#ffd3c7"/>
<rect x="826.3" width="27.1" height="38.3" fill="#fafafa"/><rect x="853.3" width="27.1" height="38.3" fill="#ffd0c3"/><rect x="880.2" width="27.1" height="38.3" fill="#ffe0d7"/><rect x="907.2" width="27.1" height="38.3" fill="#fff0ec"/><rect x="934.1" width="27.1" height="38.3" fill="#f2f3f7"/><rect x="961.1" width="27" height="38.3" fill="#e1e4ed"/>
<rect x="996" width="27.1" height="38.3" fill="#5d6d99"/><rect x="1023" width="27.1" height="38.3" fill="#52649a"/><rect x="1050" width="27.1" height="38.3" fill="#41558a"/><rect x="1077" width="27.1" height="38.3" fill="#97a0bf"/><rect x="1131" width="27.1" height="38.3" fill="#6c78a6"/><rect x="1158" width="27" height="38.3" fill="#bdc1d6"/>
</g>

<!-- Row labels -->
<text class="lab" x="244" y="11">LEF1</text>
<text class="lab" x="244" y="56.3">ARF5</text>
<text class="lab" x="244" y="94.6">M6PR</text>
<text class="lab" x="244" y="132.8">RALA</text>
<text class="lab" x="244" y="171.1">DVL2</text>
<text class="lab" x="244" y="209.3">TSR3</text>
<text class="lab" x="244" y="247.6">NDUFAB1</text>
<text class="lab" x="244" y="285.8">RPS20</text>
<text class="lab" x="244" y="324.1">RANBP9</text>
<text class="lab" x="244" y="362.3">SS18L2</text>
<text class="lab" x="244" y="400.6">PPP5C</text>
<text class="lab" x="244" y="438.8">VDAC3</text>
<text class="lab" x="244" y="477.1">RTF2</text>
<text class="lab" x="244" y="515.3">B4GALT7</text>
<text class="lab" x="244" y="553.6">GABARAPL2</text>
<text class="lab" x="244" y="591.8">MRPS10</text>
<text class="lab" x="244" y="630.1">VAMP3</text>
<text class="lab" x="244" y="668.3">RCN1</text>
<text class="lab" x="244" y="706.6">FAM168A</text>
<text class="lab" x="244" y="744.8">CDC27</text>
<text class="lab" x="244" y="783.1">RPL18</text>
<text class="lab" x="244" y="828.3">PAX5</text>
<text class="lab" x="244" y="866.6">MS4A1</text>
<text class="lab" x="244" y="904.8">CD19</text>
<text class="lab" x="244" y="943.1">CD74</text>

<!-- Row group labels -->
<text x="0" y="0" font-size="35" text-anchor="middle" transform="translate(41.5,409) rotate(-90)">HK</text>
<text x="0" y="0" font-size="35" text-anchor="middle" transform="translate(41.5,933) rotate(-90)">B cells</text>

<!-- Legend -->
<text x="1200" y="385" font-size="27" font-weight="bold">CS-CORE</text>
<rect x="1198" y="397" width="113" height="32" fill="url(#cb)"/>
<g stroke="#fff" stroke-width="2">
<line x1="1204" y1="397" x2="1204" y2="403"/><line x1="1204" y1="423" x2="1204" y2="429"/>
<line x1="1302" y1="397" x2="1302" y2="403"/><line x1="1302" y1="423" x2="1302" y2="429"/>
</g>
<text x="1204" y="455" font-size="26" text-anchor="middle">-1</text>
<text x="1253" y="455" font-size="26" text-anchor="middle">0</text>
<text x="1302" y="455" font-size="26" text-anchor="middle">1</text>
</svg>
</body></html>
